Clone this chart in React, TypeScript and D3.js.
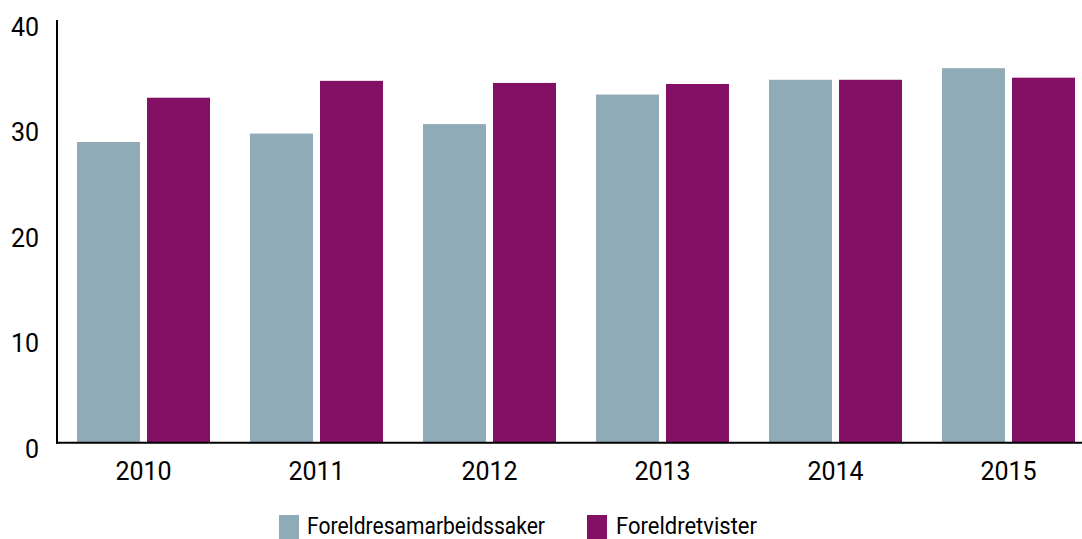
import React from "react";
import * as d3 from "d3";

const years = ["2010", "2011", "2012", "2013", "2014", "2015"];
const samarbeid = [28.5, 29.3, 30.2, 33.0, 34.4, 35.5];
const tvister = [32.7, 34.3, 34.1, 34.0, 34.4, 34.6];
const seriesNames = ["Foreldresamarbeidssaker", "Foreldretvister"];
const colors = ["#8fabb7", "#841066"];
const yTicks = [0, 10, 20, 30, 40];

export default function App() {
  const W = 1082, H = 539;
  const x0 = 57, yBase = 442.7, yTop = 20.7;
  const x = d3.scaleBand<string>().domain(years).range([x0, 1095]).paddingInner(40 / 173).paddingOuter(20 / 173);
  const xs = d3.scaleBand<string>().domain(["a", "b"]).range([0, x.bandwidth()]).paddingInner(7 / 70);
  const y = d3.scaleLinear().domain([0, 40]).range([yBase, yTop]);
  const font = "Roboto, 'Noto Sans', sans-serif";
  return (
    <svg width={W} height={H} style={{ position: "absolute", left: 0, top: 0 }} fontFamily={font}>
      {years.map((yr, i) => (
        <g key={yr}>
          <rect x={x(yr)! + xs("a")!} y={y(samarbeid[i])} width={xs.bandwidth()} height={yBase - y(samarbeid[i])} fill={colors[0]} />
          <rect x={x(yr)! + xs("b")!} y={y(tvister[i])} width={xs.bandwidth()} height={yBase - y(tvister[i])} fill={colors[1]} />
          <text x={x(yr)! + x.bandwidth() / 2} y={480} textAnchor="middle" fontSize={25} fill="#000">{yr}</text>
        </g>
      ))}
      {yTicks.map((t) => (
        <text key={t} x={39} y={y(t) + 15} textAnchor="end" fontSize={25} fill="#000">{t}</text>
      ))}
      <line x1={x0} x2={x0} y1={20} y2={yBase + 1} stroke="#000" strokeWidth={2} />
      <line x1={x0 - 1} x2={W} y1={yBase} y2={yBase} stroke="#000" strokeWidth={2} />
      <rect x={279} y={515} width={20} height={24} fill={colors[0]} />
      <text x={307} y={534} fontSize={23} textLength={238} lengthAdjust="spacingAndGlyphs" fill="#000">{seriesNames[0]}</text>
      <rect x={587} y={515} width={20} height={24} fill={colors[1]} />
      <text x={616} y={534} fontSize={23} textLength={141} lengthAdjust="spacingAndGlyphs" fill="#000">{seriesNames[1]}</text>
    </svg>
  );
}
